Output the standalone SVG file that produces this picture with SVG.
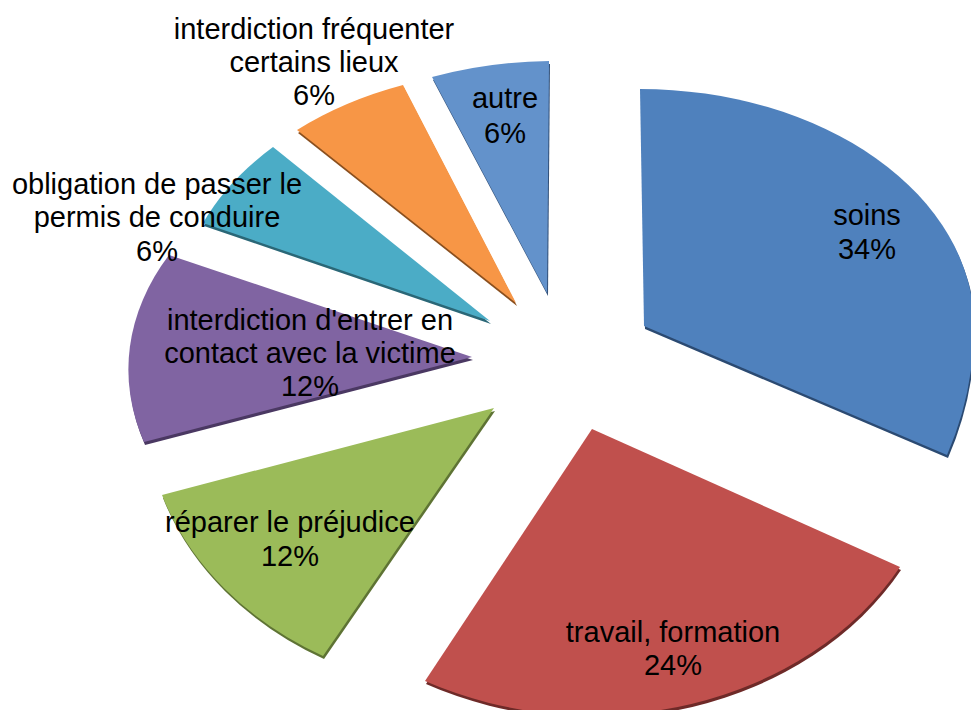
<svg xmlns="http://www.w3.org/2000/svg" xmlns:xlink="http://www.w3.org/1999/xlink" width="971" height="710" viewBox="0 0 971 710">
<style>
text{font-family:"Liberation Sans",Arial,sans-serif;font-size:29px;fill:#000;text-anchor:middle}
</style>
<defs>
<path id="p-soins" d="M644,326 L640,89 A334,237 0 0 1 974,326 A334,328 0 0 1 947,455 Z"/>
<path id="p-travail" d="M592,429 L900,567 A351,286 0 0 1 425,681 Z"/>
<path id="p-reparer" d="M494,408 L323,656 A349,285 0 0 1 162,495 Z"/>
<path id="p-contact" d="M472,357 L144,442 A335,240 0 0 1 169,255 Z"/>
<path id="p-permis" d="M490,321 L203,223 A340,240 0 0 1 273,147 Z"/>
<path id="p-lieux" d="M516,303 L297,130 A340,240 0 0 1 403,85 Z"/>
<path id="p-autre" d="M547,293 L432,77 A340,240 0 0 1 549,61 Z"/>
</defs>
<rect width="971" height="710" fill="#fff"/>
<g id="soins">
<use xlink:href="#p-soins" fill="#2b4a72" transform="translate(1,3)"/>
<use xlink:href="#p-soins" fill="#4f81bd"/>
<text x="867" y="225">soins</text>
<text x="867" y="259">34%</text>
</g>
<g id="travail">
<use xlink:href="#p-travail" fill="#6e2a28" transform="translate(1,3)"/>
<use xlink:href="#p-travail" fill="#c0504d"/>
<text x="673" y="642">travail, formation</text>
<text x="673" y="675">24%</text>
</g>
<g id="reparer">
<use xlink:href="#p-reparer" fill="#5e7334" transform="translate(1,3)"/>
<use xlink:href="#p-reparer" fill="#9bbb59"/>
<text x="290" y="532">réparer le préjudice</text>
<text x="290" y="566">12%</text>
</g>
<g id="contact">
<use xlink:href="#p-contact" fill="#4a3862" transform="translate(1,3)"/>
<use xlink:href="#p-contact" fill="#8064a2"/>
<text x="310" y="330">interdiction d'entrer en</text>
<text x="310" y="363">contact avec la victime</text>
<text x="310" y="396">12%</text>
</g>
<g id="permis">
<use xlink:href="#p-permis" fill="#2a6777" transform="translate(1,3)"/>
<use xlink:href="#p-permis" fill="#4bacc6"/>
<text x="157" y="194">obligation de passer le</text>
<text x="157" y="227">permis de conduire</text>
<text x="157" y="261">6%</text>
</g>
<g id="lieux">
<use xlink:href="#p-lieux" fill="#8a4f1e" transform="translate(1,3)"/>
<use xlink:href="#p-lieux" fill="#f79646"/>
<text x="314" y="39">interdiction fréquenter</text>
<text x="314" y="72">certains lieux</text>
<text x="314" y="105">6%</text>
</g>
<g id="autre">
<use xlink:href="#p-autre" fill="#34527a" transform="translate(1,3)"/>
<use xlink:href="#p-autre" fill="#6392cb"/>
<text x="505" y="108">autre</text>
<text x="505" y="143">6%</text>
</g>
<g id="connectors"/>
</svg>
